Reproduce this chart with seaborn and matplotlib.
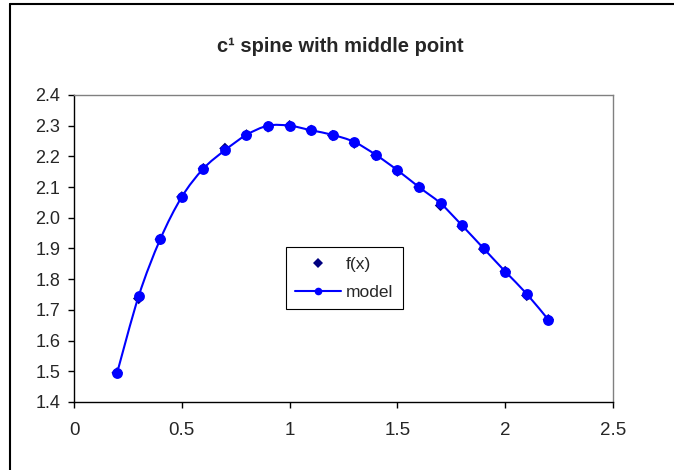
import matplotlib
matplotlib.use("Agg")
import matplotlib.pyplot as plt
import seaborn as sns
import pandas as pd
from matplotlib.patches import PathPatch
from matplotlib.path import Path
from matplotlib.lines import Line2D

x = [0.2, 0.3, 0.4, 0.5, 0.6, 0.7, 0.8, 0.9, 1.0, 1.1, 1.2, 1.3, 1.4, 1.5, 1.6, 1.7, 1.8, 1.9, 2.0, 2.1, 2.2]
fx = [1.495, 1.737, 1.930, 2.068, 2.160, 2.226, 2.270, 2.296, 2.300, 2.285, 2.268, 2.243, 2.203, 2.152, 2.100, 2.040, 1.972, 1.898, 1.825, 1.747, 1.668]
model = [1.495, 1.745, 1.930, 2.068, 2.160, 2.220, 2.270, 2.300, 2.300, 2.285, 2.270, 2.247, 2.205, 2.155, 2.100, 2.047, 1.975, 1.900, 1.825, 1.752, 1.668]

df = pd.DataFrame({"x": x, "fx": fx, "model": model})

sns.set_theme(style="white")
plt.rcParams["font.family"] = ["Liberation Sans", "DejaVu Sans"]

fig = plt.figure(figsize=(6.74, 4.70), dpi=100)
ax = fig.add_axes([0.1098, 0.1447, 0.7997, 0.6532])

BLUE = "#0000FF"
NAVY = "#000080"

sns.scatterplot(data=df, x="x", y="fx", ax=ax, color=NAVY, marker="D",
                s=34, edgecolor="none", zorder=2, legend=False)
sns.lineplot(data=df, x="x", y="model", ax=ax, color=BLUE, lw=0,
             marker="o", markersize=7.8, markeredgewidth=0, zorder=4, legend=False)

# Excel-style smoothed line through the model points (Catmull-Rom as Bezier)
verts = [(x[0], model[0])]
codes = [Path.MOVETO]
n = len(x)
for i in range(n - 1):
    p0 = (x[max(i - 1, 0)], model[max(i - 1, 0)])
    p1 = (x[i], model[i])
    p2 = (x[i + 1], model[i + 1])
    p3 = (x[min(i + 2, n - 1)], model[min(i + 2, n - 1)])
    c1 = (p1[0] + (p2[0] - p0[0]) / 6, p1[1] + (p2[1] - p0[1]) / 6)
    c2 = (p2[0] - (p3[0] - p1[0]) / 6, p2[1] - (p3[1] - p1[1]) / 6)
    verts += [c1, c2, p2]
    codes += [Path.CURVE4] * 3
ax.add_patch(PathPatch(Path(verts, codes), facecolor="none", edgecolor=BLUE, lw=1.5, zorder=3))

ax.set_xlim(0, 2.5)
ax.set_ylim(1.4, 2.4)
ax.set_xticks([0, 0.5, 1, 1.5, 2, 2.5])
ax.set_xticklabels(["0", "0.5", "1", "1.5", "2", "2.5"])
ax.set_yticks([1.4 + 0.1 * i for i in range(11)])
ax.set_yticklabels([f"{1.4 + 0.1 * i:.1f}" for i in range(11)])
ax.set_xlabel("")
ax.set_ylabel("")
ax.tick_params(axis="y", direction="out", length=4.3, width=1, color="black", labelsize=13, pad=5.5, left=True)
ax.tick_params(axis="x", direction="out", length=4.3, width=1, color="black", labelsize=13.5, pad=10, bottom=True)
for s in ["top", "right"]:
    ax.spines[s].set_color("#808080")
    ax.spines[s].set_linewidth(1)
for s in ["left", "bottom"]:
    ax.spines[s].set_color("black")
    ax.spines[s].set_linewidth(1)

h_fx = Line2D([], [], color=NAVY, marker="D", markersize=5.5, markeredgewidth=0, linestyle="none")
h_model = Line2D([], [], color=BLUE, marker="o", markersize=5.5, markeredgewidth=0, lw=1.5)
leg = ax.legend([h_fx, h_model], ["f(x)", "model"],
                loc="upper left", bbox_to_anchor=(0.393, 0.505), fontsize=12.5,
                frameon=True, fancybox=False, edgecolor="black", framealpha=1,
                handlelength=2.6, handletextpad=0.3, borderpad=0.55, labelspacing=0.75,
                borderaxespad=0)
leg.get_frame().set_linewidth(0.8)

fig.text(0.505, 0.9, "c¹ spine with middle point", ha="center", va="center",
         fontsize=14.5, fontweight="bold")

fig.add_artist(Line2D([10 / 674, 10 / 674], [0, 1 - 4 / 470], transform=fig.transFigure, color="black", lw=1.5))
fig.add_artist(Line2D([10 / 674, 1], [1 - 4 / 470, 1 - 4 / 470], transform=fig.transFigure, color="black", lw=1.5))

fig.savefig("out.png", dpi=100)
